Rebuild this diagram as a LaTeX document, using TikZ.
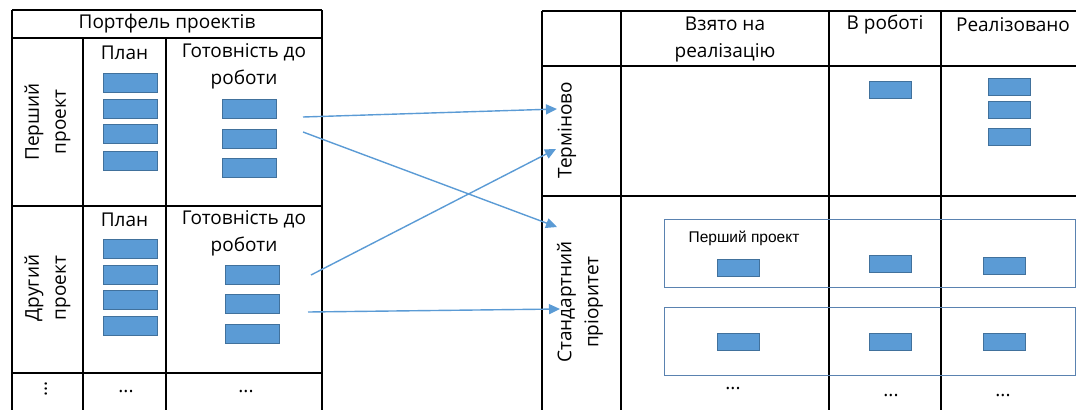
\documentclass[tikz,border=0pt]{standalone}
\usepackage{fontspec}
\setmainfont{Open Sans}
\newfontfamily\smallsans{Liberation Sans}
\usepackage{tikz}
\usetikzlibrary{arrows.meta,positioning}
\usepackage{xcolor}
\definecolor{cardfill}{HTML}{5B9BD5}
\definecolor{cardline}{HTML}{41719C}
\definecolor{frameline}{HTML}{5A82B0}
\definecolor{flowblue}{HTML}{5B9BD5}

\begin{document}
\begin{tikzpicture}[x=1pt,y=-1pt,
    every node/.style={font=\fontsize{19}{27}\selectfont,inner sep=0pt},
    grid/.style={line width=1.2pt},
    card/.style={draw=cardline,fill=cardfill,line width=0.8pt,minimum width=54pt,minimum height=19pt},
    smallcard/.style={card,minimum width=42pt,minimum height=17pt},
    frame/.style={draw=frameline,line width=0.9pt},
    flow/.style={draw=flowblue,line width=1.4pt,-{Triangle[length=11pt,width=10pt]}}]
    \useasboundingbox (0,0) rectangle (1076,410);
    % portfolio table
    \draw[grid] (12,10) -- (322,10);
    \foreach \y in {38,206,373}
      \draw[grid] (12,\y) -- (322,\y);
    \foreach \x in {12,322}
      \draw[grid] (\x,10) -- (\x,410);
    \foreach \x in {83,166}
      \draw[grid] (\x,38) -- (\x,410);
    \node (portf) at (167,24) {Портфель проектів};
    \node[rotate=90,align=center] (proj1) at (47.5,122) {Перший\\проект};
    \node (plan1) at (124.5,53) {План};
    \node[align=center] (ready1) at (244,66) {Готовність до\\роботи};
    \foreach \y [count=\i] in {82.5,108.5,134,160.5}
      \node[card] (plan1c\i) at (130,\y) {};
    \foreach \y [count=\i] in {108.5,138.5,167.5}
      \node[card] (ready1c\i) at (249,\y) {};
    \node[rotate=90,align=center] (proj2) at (47.5,288) {Другий\\проект};
    \node (plan2) at (124.5,220) {План};
    \node[align=center] (ready2) at (244,233) {Готовність до\\роботи};
    \foreach \y [count=\i] in {248.5,274.5,299.5,325.5}
      \node[card] (plan2c\i) at (130,\y) {};
    \foreach \y [count=\i] in {274.5,303.5,333.5}
      \node[card] (ready2c\i) at (252.5,\y) {};
    \node[rotate=90] (moreproj) at (46,389) {...};
    \node (moreplan) at (126,392) {...};
    \node (moreready) at (246,392) {...};
    % priority board
    \draw[grid] (542,11) -- (1076,11);
    \foreach \y in {66,196}
      \draw[grid] (542,\y) -- (1076,\y);
    \foreach \x in {542,621,829,941}
      \draw[grid] (\x,11) -- (\x,410);
    \node[align=center] (taken) at (725,39) {Взято на\\реалізацію};
    \node (inwork) at (885,25) {В роботі};
    \node (done) at (1013,25) {Реалізовано};
    \node[rotate=90] (urgent) at (567,130) {Терміново};
    \node[rotate=90,align=center] (normal) at (580,302) {Стандартний\\пріоритет};
    \node[smallcard] (urgwork) at (890.5,90) {};
    \foreach \y [count=\i] in {86.5,110,137}
      \node[smallcard] (urgdone\i) at (1009,\y) {};
    \draw[frame] (664,219) rectangle (1075,287);
    \node[font=\smallsans\fontsize{15.5}{18}\selectfont] (frame1lbl) at (744,238) {Перший проект};
    \node[smallcard] (norm1a) at (738,267.5) {};
    \node[smallcard] (norm1b) at (890.5,264) {};
    \node[smallcard] (norm1c) at (1004,266) {};
    \draw[frame] (664,307) rectangle (1075,375);
    \foreach \x/\n in {738/a,890.5/b,1004/c}
      \node[smallcard] (norm2\n) at (\x,342) {};
    \node (moretaken) at (733,389) {...};
    \node (morework) at (891,396) {...};
    \node (moredone) at (1003,396) {...};
    % moves between the tables
    \coordinate (out1a) at (303,117);
    \coordinate (out1b) at (303,132);
    \coordinate (out2a) at (311,275);
    \coordinate (out2b) at (308,312);
    \coordinate (urgin1) at (557,109);
    \coordinate (urgin2) at (556,149);
    \coordinate (normin1) at (557,227);
    \coordinate (normin2) at (560,309);
    \draw[flow] (out1a) -- (urgin1);
    \draw[flow] (out1b) -- (normin1);
    \draw[flow] (out2a) -- (urgin2);
    \draw[flow] (out2b) -- (normin2);
  \end{tikzpicture}
\end{document}
